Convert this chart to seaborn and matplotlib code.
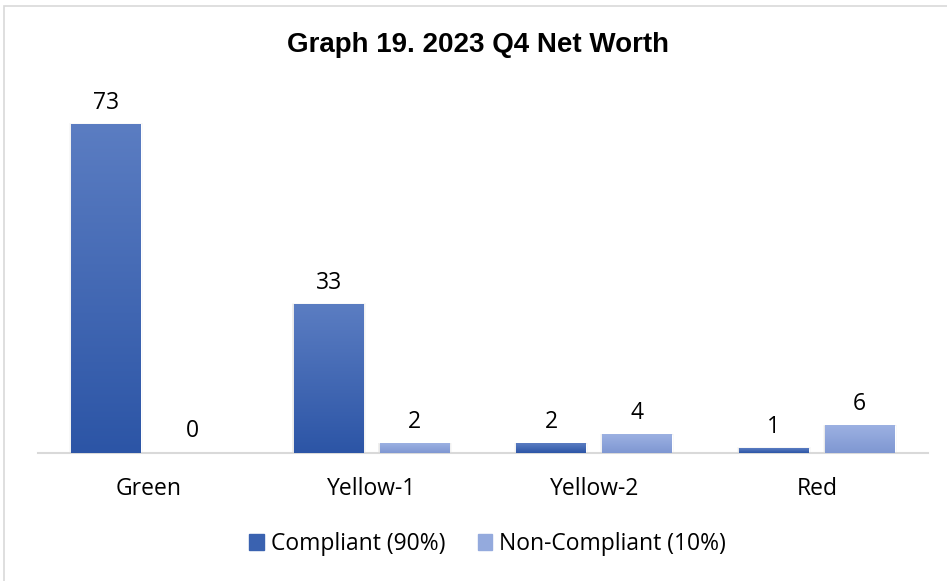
import numpy as np
import pandas as pd
import matplotlib.pyplot as plt
import matplotlib.patches as mpatches
from matplotlib.colors import LinearSegmentedColormap
import seaborn as sns

categories = ["Green", "Yellow-1", "Yellow-2", "Red"]
compliant = [73, 33, 2, 1]
non_compliant = [0, 2, 4, 6]
series = ["Compliant (90%)", "Non-Compliant (10%)"]

df = pd.DataFrame({
    "category": categories * 2,
    "value": compliant + non_compliant,
    "series": [series[0]] * 4 + [series[1]] * 4,
})

sns.set_theme(style="white")
plt.rcParams['font.family'] = ['Open Sans', 'DejaVu Sans']

fig = plt.figure(figsize=(9.47, 5.81), dpi=100)
ax = fig.add_axes([0.0398, 0.2203, 0.9402, 0.6197])

pal = {series[0]: "#2F5AAA", series[1]: "#8EA5DA"}
sns.barplot(data=df, x="category", y="value", hue="series", palette=pal,
            width=0.772, gap=0.19, legend=False, ax=ax, saturation=1)

# gradient fill, lighter on top like the excel style
grads = {
    series[0]: LinearSegmentedColormap.from_list("c", ["#2C55A6", "#5B7DC2"]),
    series[1]: LinearSegmentedColormap.from_list("n", ["#7F97D2", "#9CB1E2"]),
}
grad = np.linspace(0, 1, 256).reshape(-1, 1)
for cont, name in zip(ax.containers, series):
    for p in cont.patches:
        x0, y0 = p.get_x(), p.get_y()
        w, h = p.get_width(), p.get_height()
        if h <= 0:
            continue
        # soft shadow
        for k, a in [(0.010, 0.05), (0.006, 0.07), (0.003, 0.09)]:
            ax.add_patch(mpatches.Rectangle((x0 - k, y0), w + k * 2, h + k * 25,
                                            color="#808080", alpha=a, lw=0, zorder=1))
        ax.imshow(grad, cmap=grads[name], origin="lower", aspect="auto",
                  extent=[x0, x0 + w, y0, y0 + h], zorder=3)
        p.set_zorder(2)
    ax.bar_label(cont, labels=[str(int(v)) for v in cont.datavalues],
                 padding=7, fontsize=16.5, color="black")

ax.set_xlim(-0.5, 3.5)
ax.set_ylim(0, 80)

for s in ["top", "right", "left"]:
    ax.spines[s].set_visible(False)
ax.spines["bottom"].set_color("#D9D9D9")
ax.spines["bottom"].set_linewidth(1.5)
ax.set_yticks([])
ax.set_xlabel("")
ax.set_ylabel("")
ax.tick_params(axis="x", length=0, pad=17, labelsize=16.5, labelcolor="black")

fig.text(0.505, 1 - 45 / 581, "Graph 19. 2023 Q4 Net Worth", ha="center", va="center",
         fontsize=20, fontweight="bold", color="black",
         family=["Liberation Sans", "DejaVu Sans"])

handles = [mpatches.Patch(color="#3A62B0"), mpatches.Patch(color="#94AADD")]
fig.legend(handles, series, loc="center", bbox_to_anchor=(0.515, 1 - 544 / 581), ncol=2,
           frameon=False, fontsize=16.5, handlelength=0.65, handleheight=0.65,
           handletextpad=0.3, columnspacing=1.4, labelcolor="black")

# outer chart border
fig.add_artist(mpatches.Rectangle((4 / 947, -0.05), 1.2, 1 - 6 / 581 + 0.05,
                                  transform=fig.transFigure, fill=False,
                                  edgecolor="#D9D9D9", lw=1.2))

fig.savefig("out.png", dpi=100)
